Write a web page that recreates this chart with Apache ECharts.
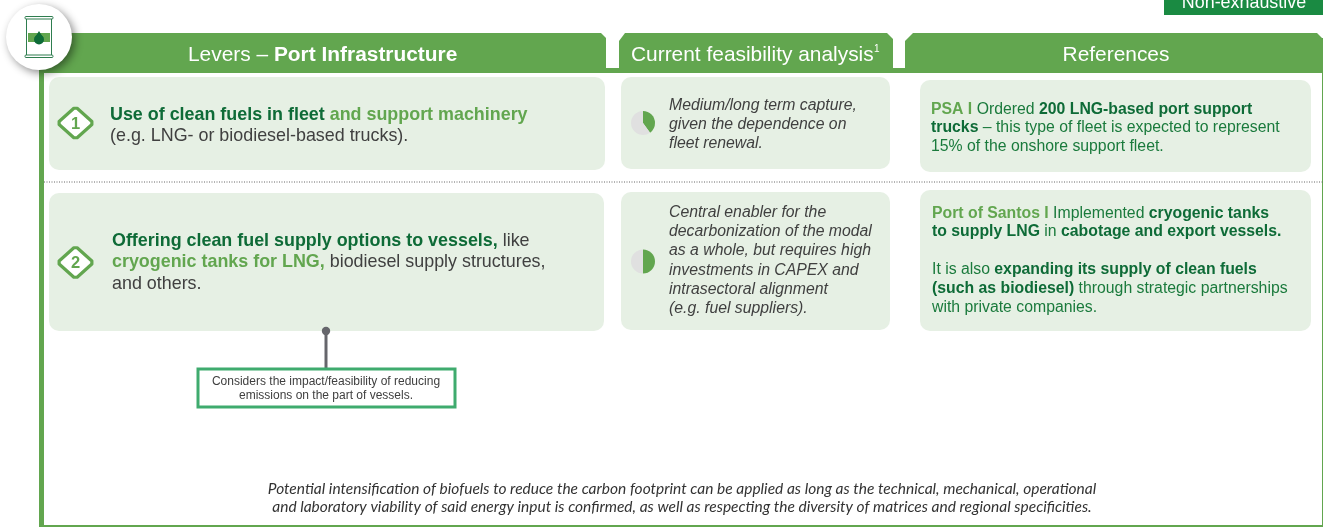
<!DOCTYPE html>
<html><head><meta charset="utf-8">
<style>html,body{margin:0;padding:0;background:#fff}#c{width:1323px;height:527px}</style>
<script src="https://cdn.jsdelivr.net/npm/echarts@6/dist/echarts.min.js"></script>
</head><body><div id="c"></div>
<script>
// ---- content ----
const feasibilityCapture = [40, 60];
const feasibilityEnabler = [50, 50];
const headers = ['Levers – ', 'Port Infrastructure', 'Current feasibility analysis', '1', 'References'];
const tag = 'Non-exhaustive';
const callout = ['Considers the impact/feasibility of reducing', 'emissions on the part of vessels.'];
const footer = [
  'Potential intensification of biofuels to reduce the carbon footprint can be applied as long as the technical, mechanical, operational',
  'and laboratory viability of said energy input is confirmed, as well as respecting the diversity of matrices and regional specificities.'
];
const feasText1 = ['Medium/long term capture,', 'given the dependence on', 'fleet renewal.'];
const feasText2 = ['Central enabler for the', 'decarbonization of the modal', 'as a whole, but requires high', 'investments in CAPEX and', 'intrasectoral alignment', '(e.g. fuel suppliers).'];
const lever1 = [
  [['d', 'Use of clean fuels in fleet '], ['l', 'and support machinery']],
  [['g', '(e.g. LNG- or biodiesel-based trucks).']]
];
const lever2 = [
  [['d', 'Offering clean fuel supply options to vessels,'], ['g', ' like']],
  [['l', 'cryogenic tanks for LNG,'], ['g', ' biodiesel supply structures,']],
  [['g', 'and others.']]
];
const ref1 = [
  [['L', 'PSA I '], ['n', 'Ordered '], ['b', '200 LNG-based port support']],
  [['b', 'trucks'], ['n', ' – this type of fleet is expected to represent']],
  [['n', '15% of the onshore support fleet.']]
];
const ref2 = [
  [['L', 'Port of Santos I '], ['n', 'Implemented '], ['b', 'cryogenic tanks']],
  [['b', 'to supply LNG'], ['n', ' in '], ['b', 'cabotage and export vessels.']]
];
const ref2b = [
  [['n', 'It is also '], ['b', 'expanding its supply of clean fuels']],
  [['b', '(such as biodiesel)'], ['n', ' through strategic partnerships']],
  [['n', 'with private companies.']]
];

// ---- palette ----
const GREEN = '#62A64F', CARD = '#E6F0E4', DARK = '#0E6B37', REF = '#1A7A3C', GRAY = '#404040', FAINT = '#E0E0E0';
const AR = '"Liberation Sans", Arial, sans-serif';

function line(x, y, segs, size, styles) {
  const rich = {};
  Object.keys(styles).forEach(k => {
    rich[k] = Object.assign({ fontFamily: AR, fontSize: size }, styles[k]);
  });
  return {
    type: 'text', x, y: y + 1,
    style: {
      text: segs.map(s => '{' + s[0] + '|' + s[1] + '}').join(''),
      rich, verticalAlign: 'middle', align: 'left'
    }
  };
}
function plain(x, y, text, size, fill, opt) {
  return {
    type: 'text', x, y,
    style: Object.assign({ text, fontFamily: AR, fontSize: size, fill, verticalAlign: 'middle', align: 'left' }, opt || {})
  };
}
function card(x, y, w, h) {
  return { type: 'rect', shape: { x, y, width: w, height: h, r: 10 }, style: { fill: CARD } };
}
function poly(points, fill) {
  return { type: 'polygon', shape: { points }, style: { fill } };
}
function diamond(cx, cy, n) {
  const a = 18, b = 16.2, c = 0.09;
  const pts = [
    [cx - a * (1 - c), cy - b * c], [cx - a * c, cy - b * (1 - c)],
    [cx + a * c, cy - b * (1 - c)], [cx + a * (1 - c), cy - b * c],
    [cx + a * (1 - c), cy + b * c], [cx + a * c, cy + b * (1 - c)],
    [cx - a * c, cy + b * (1 - c)], [cx - a * (1 - c), cy + b * c]
  ];
  return [
    { type: 'polygon', shape: { points: pts },
      style: { fill: '#fff', stroke: GREEN, lineWidth: 3.2, lineJoin: 'round' } },
    plain(cx, cy + 1, n, 16.5, GREEN, { align: 'center', fontWeight: 'bold' })
  ];
}

const leverStyles = {
  d: { fill: DARK, fontWeight: 'bold' },
  l: { fill: GREEN, fontWeight: 'bold' },
  g: { fill: GRAY }
};
const refStyles = {
  L: { fill: GREEN, fontWeight: 'bold' },
  n: { fill: REF },
  b: { fill: DARK, fontWeight: 'bold' }
};

const els = [];
// top tag
els.push({ type: 'rect', shape: { x: 1164, y: 0, width: 159, height: 15 }, style: { fill: '#1A8A42' } });
els.push(plain(1244, 3, tag, 17.9, '#fff', { align: 'center' }));
// frame
els.push({ type: 'rect', shape: { x: 39, y: 70, width: 5, height: 457 }, style: { fill: GREEN } });
els.push({ type: 'rect', shape: { x: 39, y: 525, width: 1284, height: 2 }, style: { fill: GREEN } });
els.push({ type: 'rect', shape: { x: 1322, y: 38, width: 1, height: 489 }, style: { fill: GREEN } });
// header band and tabs
els.push({ type: 'rect', shape: { x: 39, y: 68, width: 1284, height: 5 }, style: { fill: GREEN } });
els.push(poly([[39, 33], [601, 33], [606, 38], [606, 70], [39, 70]], GREEN));
els.push(poly([[625, 33], [887, 33], [893, 39], [893, 70], [619, 70], [619, 41]], GREEN));
els.push(poly([[913, 33], [1317, 33], [1323, 39], [1323, 70], [905, 70], [905, 41]], GREEN));
// header text
els.push(line(188, 54, [['a', headers[0]], ['b', headers[1]]], 20.9, {
  a: { fill: '#fff' }, b: { fill: '#fff', fontWeight: 'bold' }
}));
els.push(plain(631, 55, headers[2], 20.9, '#fff'));
els.push(plain(874, 49, headers[3], 10, '#fff'));
els.push(plain(1116, 55, headers[4], 20.9, '#fff', { align: 'center' }));
// cards
els.push(card(49, 77, 556, 93), card(621, 77, 269, 92), card(920, 80, 391, 92));
els.push(card(49, 193, 555, 138), card(621, 192, 269, 138), card(920, 190, 391, 141));
// separator
els.push({ type: 'line', shape: { x1: 44, y1: 182, x2: 1323, y2: 182 },
  style: { stroke: '#666', lineWidth: 1, lineDash: [1, 1.5] } });
// levers
els.push(...diamond(75.5, 123, '1'), ...diamond(75.5, 262.5, '2'));
[114, 135].forEach((y, i) => els.push(line(110, y, lever1[i], 17.9, leverStyles)));
[240, 261, 283].forEach((y, i) => els.push(line(112, y, lever2[i], 17.9, leverStyles)));
// feasibility
[106, 125, 144].forEach((y, i) => els.push(plain(669, y, feasText1[i], 15.8, GRAY, { fontStyle: 'italic' })));
[213, 232, 251, 271, 290, 309].forEach((y, i) => els.push(plain(669, y, feasText2[i], 15.8, GRAY, { fontStyle: 'italic' })));
// refs
[109, 127, 146].forEach((y, i) => els.push(line(931, y, ref1[i], 15.8, refStyles)));
[213, 231].forEach((y, i) => els.push(line(932, y, ref2[i], 15.8, refStyles)));
[269, 288, 307].forEach((y, i) => els.push(line(932, y, ref2b[i], 15.8, refStyles)));
// callout
els.push({ type: 'line', shape: { x1: 326, y1: 331, x2: 326, y2: 369 }, style: { stroke: '#66666C', lineWidth: 3 } });
els.push({ type: 'circle', shape: { cx: 326, cy: 331, r: 4.2 }, style: { fill: '#66666C' } });
els.push({ type: 'rect', shape: { x: 198, y: 369, width: 257, height: 38 }, style: { fill: '#fff', stroke: '#3FAB6E', lineWidth: 3 } });
els.push(plain(326, 382, callout[0], 12, GRAY, { align: 'center' }));
els.push(plain(326, 396, callout[1], 12, GRAY, { align: 'center' }));
// footnote
footer.forEach((t, i) => els.push({
  type: 'text', x: 682, y: 489 + i * 18,
  style: { text: t, fontFamily: 'Lato, sans-serif', fontStyle: 'italic', fontSize: 15.5, fill: '#333', align: 'center', verticalAlign: 'middle' }
}));
// barrel badge
els.push({ type: 'circle', shape: { cx: 39, cy: 37, r: 33 },
  style: { fill: '#fff', shadowBlur: 9, shadowOffsetX: 3, shadowOffsetY: 3, shadowColor: 'rgba(0,0,0,0.45)' } });
els.push({ type: 'rect', shape: { x: 26.5, y: 18, width: 25, height: 38 }, style: { fill: '#fff', stroke: '#2E7D4F', lineWidth: 1 } });
els.push({ type: 'rect', shape: { x: 25, y: 16.5, width: 28, height: 2.5, r: 1 }, style: { fill: '#fff', stroke: '#2E7D4F', lineWidth: 1 } });
els.push({ type: 'rect', shape: { x: 25, y: 55, width: 28, height: 2.5, r: 1 }, style: { fill: '#fff', stroke: '#2E7D4F', lineWidth: 1 } });
els.push({ type: 'rect', shape: { x: 28, y: 33, width: 22, height: 9 }, style: { fill: GREEN } });
// oil drop
els.push({ type: 'polygon', shape: { points: [[39, 31], [43.4, 38], [34.6, 38]] }, style: { fill: DARK } });
els.push({ type: 'circle', shape: { cx: 39, cy: 39.5, r: 5 }, style: { fill: DARK } });

function ball(center, values) {
  return {
    type: 'pie', center, radius: [0, 12], startAngle: 90, clockwise: true, silent: true,
    label: { show: false }, labelLine: { show: false }, emphasis: { disabled: true },
    animation: false,
    data: [{ value: values[0], itemStyle: { color: GREEN } }, { value: values[1], itemStyle: { color: FAINT } }]
  };
}

const chart = echarts.init(document.getElementById('c'), null, { renderer: 'canvas' });
chart.setOption({
  animation: false,
  backgroundColor: '#fff',
  tooltip: { show: false },
  graphic: { elements: els },
  series: [ball([643, 123], feasibilityCapture), ball([643, 261.5], feasibilityEnabler)]
});
</script></body></html>
